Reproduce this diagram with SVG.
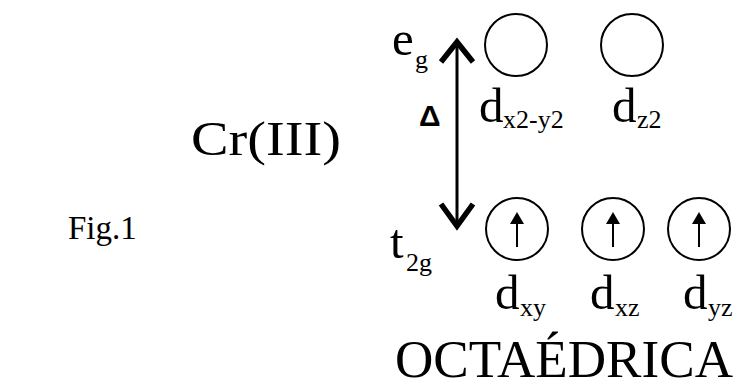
<svg xmlns="http://www.w3.org/2000/svg" width="736" height="392" viewBox="0 0 736 392">
<style>
text{font-family:"Liberation Serif","Times New Roman",serif;fill:#000}
.big{font-size:49px}
.sub{font-size:26px}
.orb{fill:#fff;stroke:#000;stroke-width:2}
.spin{stroke:#000;stroke-width:2;fill:none}
.chev{stroke:#000;stroke-width:5.5;fill:none;stroke-linejoin:miter;stroke-linecap:butt}
</style>
<defs>
<g id="spinup"><line class="spin" x1="0" y1="18" x2="0" y2="-6"/><polygon points="0,-17 -7,-5 7,-5" fill="#000"/></g>
</defs>
<rect width="736" height="392" fill="#fff"/>
<g id="fig-label"><text x="68" y="239" style="font-size:33px">Fig.1</text></g>
<g id="ion-label"><text x="191" y="155" class="big" textLength="150" lengthAdjust="spacingAndGlyphs">Cr(III)</text></g>
<g id="eg-label"><text x="392" y="55" class="big">e</text><text x="415" y="68" class="sub">g</text></g>
<g id="t2g-label"><text x="390" y="258" class="big">t</text><text x="406" y="271" class="sub">2g</text></g>
<g id="delta-label"><text x="419" y="126" style="font-family:'Liberation Sans',Arial,sans-serif;font-size:30px;font-weight:bold">Δ</text></g>
<g id="connectors">
<line x1="457" y1="44" x2="457" y2="224" stroke="#000" stroke-width="3"/>
<polyline class="chev" points="441,62 457,42 473,62"/>
<polyline class="chev" points="441,204 457,226 473,204"/>
</g>
<g id="orb-dx2y2"><circle class="orb" cx="516" cy="45" r="31"/><text x="479" y="122" class="big">d</text><text x="503" y="128" class="sub">x2-y2</text></g>
<g id="orb-dz2"><circle class="orb" cx="632" cy="45" r="31"/><text x="612" y="122" class="big">d</text><text x="637" y="128" class="sub">z2</text></g>
<g id="orb-dxy"><circle class="orb" cx="517" cy="229" r="31"/><use href="#spinup" x="517" y="229"/><text x="495" y="309" class="big">d</text><text x="520" y="316" class="sub">xy</text></g>
<g id="orb-dxz"><circle class="orb" cx="613" cy="229" r="31"/><use href="#spinup" x="613" y="229"/><text x="590" y="309" class="big">d</text><text x="615" y="316" class="sub">xz</text></g>
<g id="orb-dyz"><circle class="orb" cx="699" cy="229" r="31"/><use href="#spinup" x="699" y="229"/><text x="683" y="309" class="big">d</text><text x="708" y="316" class="sub">yz</text></g>
<g id="geometry-label"><text x="395" y="377" style="font-size:53px" textLength="338" lengthAdjust="spacingAndGlyphs">OCTAÉDRICA</text></g>
</svg>
